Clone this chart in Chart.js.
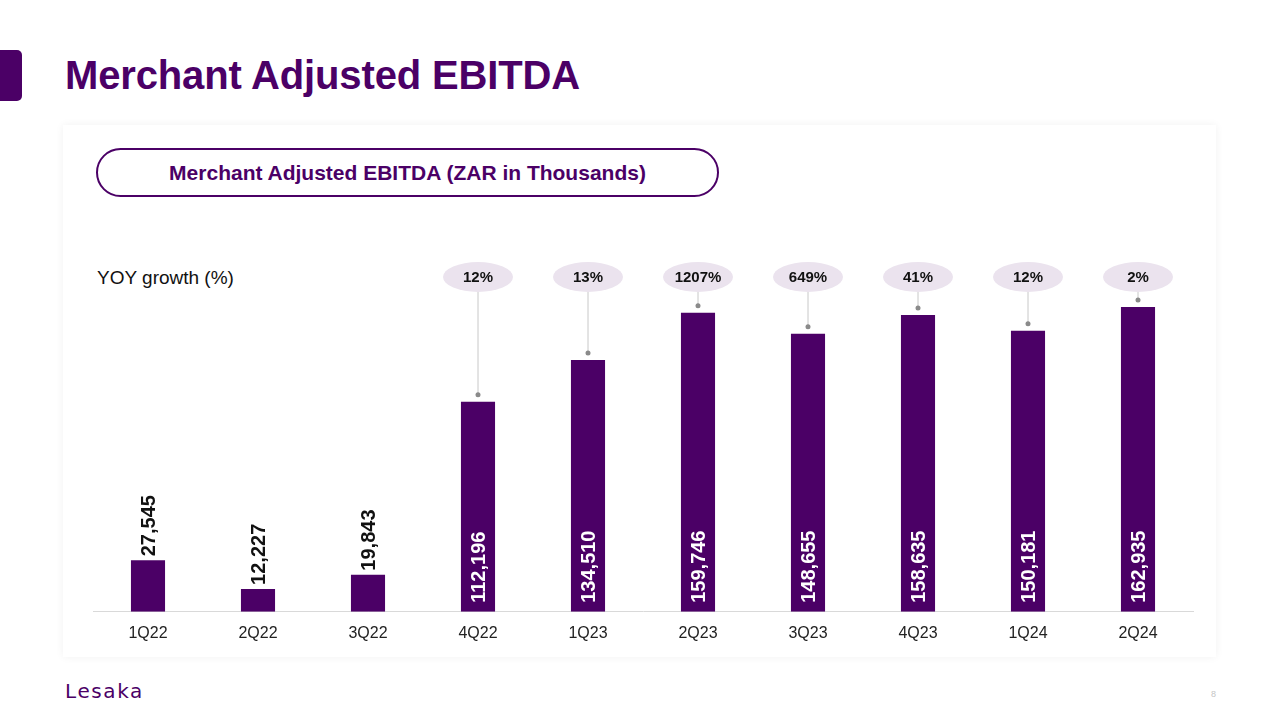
<!DOCTYPE html>
<html>
<head>
<meta charset="utf-8">
<script src="https://cdn.jsdelivr.net/npm/chart.js@4.4.1/dist/chart.umd.min.js"></script>
<style>
  html, body { margin: 0; padding: 0; background: #fff; }
  body { width: 1280px; height: 720px; position: relative; overflow: hidden; font-family: "Liberation Sans", Arial, sans-serif; }
  #tab { position: absolute; left: -8px; top: 50px; width: 30px; height: 51px; background: #4b0066; border-radius: 5px; }
  #title { position: absolute; left: 65px; top: 53px; font-size: 40px; font-weight: bold; color: #4b0066; letter-spacing: -0.15px; }
  #card { position: absolute; left: 63px; top: 125px; width: 1153px; height: 532px; background: #fff; box-shadow: 0 0 8px rgba(0,0,0,0.06); }
  #pill { position: absolute; left: 96px; top: 148px; width: 619px; height: 45px; border: 2px solid #4b0066; border-radius: 26px; color: #4b0066; font-size: 21px; font-weight: bold; text-align: center; line-height: 46px; }
  #yoy { position: absolute; left: 97px; top: 267px; font-size: 19px; color: #111; }
  #wrap { position: absolute; left: 80px; top: 240px; width: 1126px; height: 407px; }
  #logo { position: absolute; left: 65px; top: 679px; font-size: 20px; color: #4b0066; letter-spacing: 1.6px; font-family: "DejaVu Sans", sans-serif; }
  #page { position: absolute; left: 1211px; top: 689px; font-size: 9px; color: #c4c4c4; }
</style>
</head>
<body>
<div id="tab"></div>
<div id="title">Merchant Adjusted EBITDA</div>
<div id="card"></div>
<div id="pill">Merchant Adjusted EBITDA (ZAR in Thousands)</div>
<div id="yoy">YOY growth (%)</div>
<div id="wrap"><canvas id="chart"></canvas></div>
<div id="logo">Lesaka</div>
<div id="page">8</div>
<script>
/*** Data ***/
const quarters = ['1Q22', '2Q22', '3Q22', '4Q22', '1Q23', '2Q23', '3Q23', '4Q23', '1Q24', '2Q24'];
const ebitda = [27545, 12227, 19843, 112196, 134510, 159746, 148655, 158635, 150181, 162935];
const growth = [null, null, null, '12%', '13%', '1207%', '649%', '41%', '12%', '2%'];

const purple = '#4b0066';

/*** Labels and growth bubbles ***/
const annotations = {
    id: 'annotations',
    afterDatasetsDraw(chart) {
        const ctx = chart.ctx;
        const meta = chart.getDatasetMeta(0);
        const area = chart.chartArea;
        const bubbleY = area.top + 17;
        ctx.save();
        meta.data.forEach(function (bar, i) {
            const x = bar.x;
            const label = ebitda[i].toLocaleString('en-US');
            // value labels, rotated
            ctx.font = 'bold 20px "Liberation Sans", Arial, sans-serif';
            ctx.save();
            if (ebitda[i] > 50000) {
                ctx.translate(x, bar.base - 9);
                ctx.fillStyle = '#fff';
            } else {
                ctx.translate(x, bar.y - 4);
                ctx.fillStyle = '#111';
            }
            ctx.rotate(-Math.PI / 2);
            ctx.textAlign = 'left';
            ctx.textBaseline = 'middle';
            ctx.fillText(label, 0, 1);
            ctx.restore();

            if (growth[i] === null) return;
            // connector
            const dotY = bar.y - 7;
            ctx.strokeStyle = '#c8c8c8';
            ctx.lineWidth = 1;
            ctx.beginPath();
            ctx.moveTo(x, bubbleY + 15);
            ctx.lineTo(x, dotY);
            ctx.stroke();
            ctx.fillStyle = '#8a8a8a';
            ctx.beginPath();
            ctx.arc(x, dotY, 2.5, 0, Math.PI * 2);
            ctx.fill();
            // bubble
            ctx.fillStyle = '#ebe3ee';
            ctx.beginPath();
            ctx.ellipse(x, bubbleY, 35, 15, 0, 0, Math.PI * 2);
            ctx.fill();
            ctx.fillStyle = '#111';
            ctx.font = 'bold 15px "Liberation Sans", Arial, sans-serif';
            ctx.textAlign = 'center';
            ctx.textBaseline = 'middle';
            ctx.fillText(growth[i], x, bubbleY + 1);
        });
        ctx.restore();
    }
};

/*** Chart ***/
new Chart(document.getElementById('chart'), {
    type: 'bar',
    data: {
        labels: quarters,
        datasets: [{
            data: ebitda,
            backgroundColor: purple,
            barPercentage: 0.31,
            categoryPercentage: 1.0
        }]
    },
    options: {
        responsive: true,
        maintainAspectRatio: false,
        animation: false,
        layout: { padding: { left: 13, right: 13, top: 20, bottom: 0 } },
        plugins: {
            legend: { display: false },
            tooltip: { enabled: false }
        },
        scales: {
            x: {
                grid: { display: false },
                border: { display: true, color: '#d9d9d9', width: 1 },
                ticks: {
                    color: '#222',
                    padding: 4,
                    font: { family: '"Liberation Sans", Arial, sans-serif', size: 16 }
                }
            },
            y: {
                display: false,
                min: 0,
                max: 188000
            }
        }
    },
    plugins: [annotations]
});
</script>
</body>
</html>
